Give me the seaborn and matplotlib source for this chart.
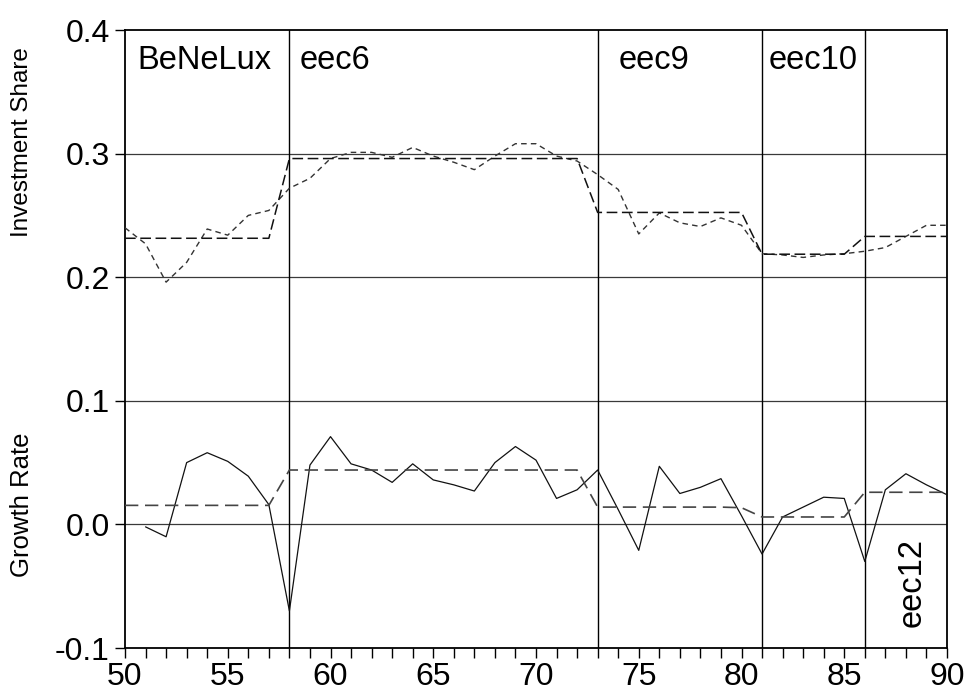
import numpy as np
import pandas as pd
import matplotlib
matplotlib.use("Agg")
import matplotlib.pyplot as plt
import seaborn as sns

# ---------------- data ----------------
years = list(range(50, 91))

inv_share = [0.240, 0.227, 0.196, 0.212, 0.239, 0.234, 0.250, 0.254, 0.272, 0.280,
             0.296, 0.301, 0.301, 0.297, 0.305, 0.298, 0.293, 0.287, 0.298, 0.308,
             0.308, 0.298, 0.294, 0.283, 0.271, 0.235, 0.252, 0.244, 0.241, 0.248,
             0.242, 0.219, 0.218, 0.216, 0.218, 0.219, 0.221, 0.224, 0.233, 0.242,
             0.242]

inv_fit = [0.2315] * 8 + [0.296] * 15 + [0.2524] * 8 + [0.2186] * 5 + [0.233] * 5

growth = [np.nan, -0.002, -0.010, 0.050, 0.058, 0.051, 0.039, 0.016, -0.070, 0.048,
          0.071, 0.049, 0.044, 0.034, 0.049, 0.036, 0.032, 0.027, 0.050, 0.063,
          0.052, 0.021, 0.028, 0.044, 0.012, -0.021, 0.047, 0.025, 0.030, 0.037,
          0.007, -0.024, 0.006, 0.014, 0.022, 0.021, -0.030, 0.028, 0.041, 0.032,
          0.024]

growth_fit = [0.0154] * 8 + [0.044] * 15 + [0.014] * 7 + [0.0135] + [0.006] * 5 + [0.026] * 5

breaks = [58, 73, 81, 86]
period_labels = ["BeNeLux", "eec6", "eec9", "eec10"]
period_label_x = [50.6, 58.5, 74.0, 81.3]
x_ticks = list(range(50, 91, 5))
y_ticks = [-0.1, 0.0, 0.1, 0.2, 0.3, 0.4]
y_tick_labels = ["-0.1", "0.0", "0.1", "0.2", "0.3", "0.4"]

df = pd.DataFrame({"year": years, "inv": inv_share, "inv_fit": inv_fit,
                   "growth": growth, "growth_fit": growth_fit})

# ---------------- figure ----------------
sns.set_theme(style="white")
plt.rcParams["font.family"] = ["Liberation Sans", "DejaVu Sans"]
plt.rcParams["text.color"] = "black"
plt.rcParams["xtick.color"] = "black"
plt.rcParams["ytick.color"] = "black"

fig = plt.figure(figsize=(9.65, 6.98), dpi=100)
ax = fig.add_axes([125 / 965, 50 / 698, 822 / 965, 618 / 698])

# grid lines
for yv in [0.0, 0.1, 0.2, 0.3]:
    ax.axhline(yv, color="#3a3a3a", lw=0.9, zorder=1)
for xv in breaks:
    ax.axvline(xv, color="black", lw=1.0, zorder=1)

sns.lineplot(data=df, x="year", y="inv", ax=ax, color="#333333", lw=1.0,
             linestyle=(0, (4, 3)), estimator=None, zorder=3)
sns.lineplot(data=df, x="year", y="inv_fit", ax=ax, color="#111111", lw=1.1,
             linestyle=(0, (7, 3)), estimator=None, zorder=3)
sns.lineplot(data=df.dropna(), x="year", y="growth", ax=ax, color="#111111", lw=0.9,
             estimator=None, zorder=3)
sns.lineplot(data=df, x="year", y="growth_fit", ax=ax, color="#444444", lw=1.2,
             linestyle=(0, (8, 4)), estimator=None, zorder=3)

ax.set_xlim(50, 90)
ax.set_ylim(-0.1, 0.4)
ax.set_xticks(x_ticks)
ax.set_xticks(years, minor=True)
ax.set_yticks(y_ticks)
ax.set_yticklabels(y_tick_labels)
ax.set_xlabel("")
ax.set_ylabel("")

for lab in ax.get_xticklabels():
    lab.set_fontsize(23)
    lab.set_color("black")
for lab in ax.get_yticklabels():
    lab.set_fontsize(23)
    lab.set_color("black")

ax.tick_params(axis="x", which="both", direction="out", length=7, width=1.0,
               color="black", bottom=True, pad=3)
ax.tick_params(axis="y", which="major", direction="out", length=7, width=1.0,
               color="black", left=True, pad=4)

for sp in ax.spines.values():
    sp.set_visible(True)
    sp.set_color("black")
    sp.set_linewidth(1.3)

for lab, xl in zip(period_labels, period_label_x):
    ax.text(xl, 0.375, lab, fontsize=23.5, va="center", ha="left", color="black")
ax.text(88.3, -0.047, "eec12", fontsize=23.5, va="center", ha="center",
        rotation=90, color="black")

fig.text(22 / 965, 1 - 142 / 698, "Investment Share", rotation=90,
         ha="center", va="center", fontsize=17.5, color="black")
fig.text(22 / 965, 1 - 505 / 698, "Growth Rate", rotation=90,
         ha="center", va="center", fontsize=18.5, color="black")

fig.savefig("out.png", dpi=100)
